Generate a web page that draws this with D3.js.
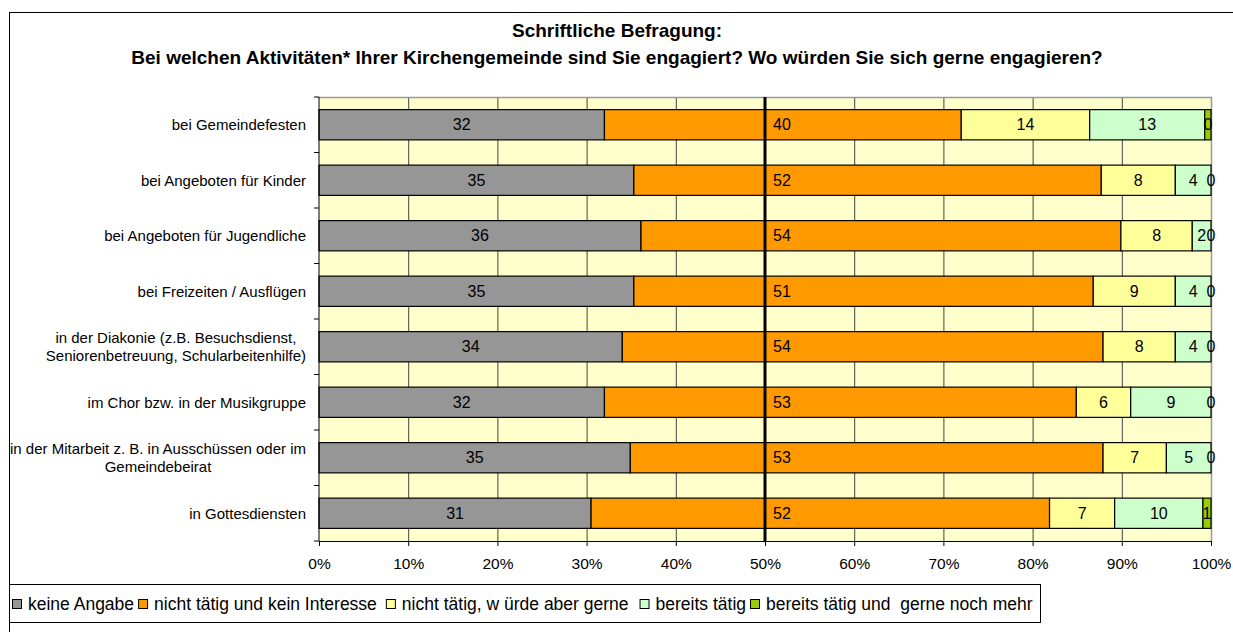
<!DOCTYPE html>
<html>
<head>
<meta charset="utf-8">
<script src="https://cdn.jsdelivr.net/npm/d3@7/dist/d3.min.js"></script>
<style>
  body { margin: 0; background: #fff; }
  svg { display: block; font-family: "Liberation Sans", Arial, sans-serif; }
</style>
</head>
<body>
<svg id="chart" width="1233" height="632"></svg>
<script>
// categories, top to bottom
const categories = [
  ["bei Gemeindefesten"],
  ["bei Angeboten für Kinder"],
  ["bei Angeboten für Jugendliche"],
  ["bei Freizeiten / Ausflügen"],
  ["in der Diakonie (z.B. Besuchsdienst,", "Seniorenbetreuung, Schularbeitenhilfe)"],
  ["im Chor bzw. in der Musikgruppe"],
  ["in der Mitarbeit z. B. in Ausschüssen oder im", "Gemeindebeirat"],
  ["in Gottesdiensten"]
];

const seriesNames = ["keine Angabe", "nicht tätig und kein Interesse", "nicht tätig, w ürde aber gerne", "bereits tätig", "bereits tätig und  gerne noch mehr"];
const seriesColors = ["#969696", "#FF9900", "#FFFF99", "#CCFFCC", "#99CC00"];

// segment widths in percent
const keineAngabe   = [32.0, 35.3, 36.1, 35.3, 34.0, 32.0, 34.9, 30.5];
const nichtTaetig   = [40.0, 52.4, 53.8, 51.5, 53.9, 52.9, 53.0, 51.4];
const wuerdeGerne   = [14.4,  8.3,  8.0,  9.2,  8.1,  6.1,  7.1,  7.3];
const bereitsTaetig = [12.9,  4.0,  2.1,  4.0,  4.0,  9.0,  5.0,  9.9];
const nochMehr      = [ 0.7,  0.0,  0.0,  0.0,  0.0,  0.0,  0.0,  0.9];

// printed data labels
const labKeine   = [32, 35, 36, 35, 34, 32, 35, 31];
const labNicht   = [40, 52, 54, 51, 54, 53, 53, 52];
const labGerne   = [14, 8, 8, 9, 8, 6, 7, 7];
const labBereits = [13, 4, 2, 4, 4, 9, 5, 10];
const labMehr    = [0, 0, 0, 0, 0, 0, 0, 1];

const xTicks = [0, 10, 20, 30, 40, 50, 60, 70, 80, 90, 100];

const seriesValues = [keineAngabe, nichtTaetig, wuerdeGerne, bereitsTaetig, nochMehr];
const seriesLabels = [labKeine, labNicht, labGerne, labBereits, labMehr];

const svg = d3.select("#chart");
const plot = { left: 319, right: 1211, top: 97, bottom: 541 };

const x = d3.scaleLinear().domain([0, 100]).range([plot.left, plot.right]);
const y = d3.scaleBand().domain(d3.range(categories.length))
  .range([plot.top, plot.bottom]).paddingInner(0.455).paddingOuter(0.2275);

// outer frame
svg.append("rect").attr("x", 9.5).attr("y", 12.5).attr("width", 1400).attr("height", 800)
  .attr("fill", "#fff").attr("stroke", "#000");

// title
const title = svg.append("text").attr("text-anchor", "middle")
  .attr("font-weight", "bold").attr("font-size", 19);
title.append("tspan").attr("x", 617).attr("y", 37).text("Schriftliche Befragung:");
title.append("tspan").attr("x", 617).attr("y", 64)
  .text("Bei welchen Aktivitäten* Ihrer Kirchengemeinde sind Sie engagiert? Wo würden Sie sich gerne engagieren?");

// plot background
svg.append("rect").attr("x", plot.left).attr("y", plot.top)
  .attr("width", plot.right - plot.left).attr("height", plot.bottom - plot.top)
  .attr("fill", "#FFFFCC");

// grid lines
svg.append("g").selectAll("line").data(xTicks.slice(1, -1)).join("line")
  .attr("x1", d => x(d) + 0.5).attr("x2", d => x(d) + 0.5)
  .attr("y1", plot.top).attr("y2", plot.bottom)
  .attr("stroke", "#444").attr("stroke-width", 1);

// plot border (top / right grey)
svg.append("path")
  .attr("d", `M${plot.left},${plot.top + 0.5}H${plot.right + 0.5}V${plot.bottom}`)
  .attr("fill", "none").attr("stroke", "#999").attr("stroke-width", 1.5);

// stacked segments
const rows = categories.map((c, i) => {
  let acc = 0;
  return seriesValues.map((s, k) => {
    const seg = { row: i, k: k, x0: acc, x1: acc + s[i], label: seriesLabels[k][i] };
    acc += s[i];
    return seg;
  });
});
const segs = rows.flat();

svg.append("g").selectAll("rect").data(segs.filter(d => d.x1 > d.x0)).join("rect")
  .attr("x", d => x(d.x0)).attr("width", d => x(d.x1) - x(d.x0))
  .attr("y", d => y(d.row)).attr("height", y.bandwidth())
  .attr("fill", d => seriesColors[d.k])
  .attr("stroke", "#000").attr("stroke-width", 1.2);

// data labels
svg.append("g").selectAll("text").data(segs).join("text")
  .attr("x", d => d.k === 1 ? x(50) + 8 : (d.x1 > d.x0 ? (x(d.x0) + x(d.x1)) / 2 : x(100)))
  .attr("y", d => y(d.row) + y.bandwidth() / 2)
  .attr("dy", "0.35em")
  .attr("text-anchor", d => d.k === 1 ? "start" : "middle")
  .attr("font-size", 16)
  .attr("fill", "#000")
  .text(d => d.label);

// 50% line
svg.append("line").attr("x1", x(50)).attr("x2", x(50))
  .attr("y1", plot.top).attr("y2", plot.bottom)
  .attr("stroke", "#000").attr("stroke-width", 3);

// x axis
const xAxis = svg.append("g").attr("transform", `translate(0,${plot.bottom})`)
  .call(d3.axisBottom(x).tickValues(xTicks).tickSize(5).tickPadding(12).tickFormat(d => d + "%"));
xAxis.select(".domain").attr("stroke", "#000");
xAxis.selectAll("text").attr("font-size", 15.5).attr("font-family", "Liberation Sans, Arial, sans-serif").attr("fill", "#000");

// y axis line and ticks at band boundaries
const step = y.step();
svg.append("line").attr("x1", plot.left).attr("x2", plot.left)
  .attr("y1", plot.top).attr("y2", plot.bottom).attr("stroke", "#000");
svg.append("g").selectAll("line").data(d3.range(categories.length + 1)).join("line")
  .attr("x1", plot.left - 5).attr("x2", plot.left)
  .attr("y1", d => plot.top + d * step).attr("y2", d => plot.top + d * step)
  .attr("stroke", "#000");

// category labels (multi-line blocks centred, block right aligned)
const catG = svg.append("g").attr("font-size", 15).attr("fill", "#000");
categories.forEach((lines, i) => {
  const t = catG.append("text").attr("text-anchor", "middle");
  const cy = y(i) + y.bandwidth() / 2;
  const lh = 18;
  lines.forEach((ln, j) => {
    t.append("tspan").attr("y", cy + (j - (lines.length - 1) / 2) * lh).attr("dy", "0.35em").text(ln);
  });
  let w = 0;
  t.selectAll("tspan").each(function () { w = Math.max(w, this.getComputedTextLength()); });
  t.selectAll("tspan").attr("x", 306 - w / 2);
});

// legend
const lg = svg.append("g");
lg.append("rect").attr("x", 9.5).attr("y", 584.5).attr("width", 1031).attr("height", 38)
  .attr("fill", "#fff").attr("stroke", "#000");
const gaps = [4, 9, 11, 4, 0];
let lx = 12;
seriesNames.forEach((name, k) => {
  lg.append("rect").attr("x", lx + 0.5).attr("y", 599.5).attr("width", 9).attr("height", 9)
    .attr("fill", seriesColors[k]).attr("stroke", "#000");
  const t = lg.append("text").attr("x", lx + 16).attr("y", 604).attr("dy", "0.35em")
    .attr("font-size", 17.5).style("white-space", "pre").text(name);
  lx += 16 + t.node().getComputedTextLength() + gaps[k];
});
</script>
</body>
</html>
